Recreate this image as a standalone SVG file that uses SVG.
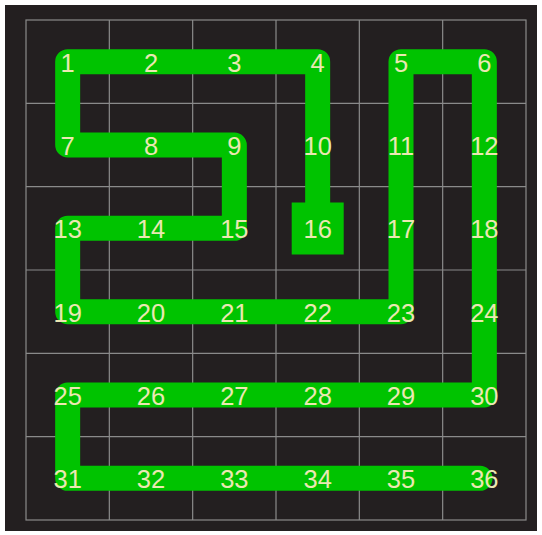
<svg xmlns="http://www.w3.org/2000/svg" width="542" height="535" viewBox="0 0 542 535">
<style>
.grid{stroke:#8a8a8a;stroke-width:1.2;fill:none}
.route{stroke:#00c300;stroke-width:25;fill:none;stroke-linejoin:round;stroke-linecap:round}
.lbl{font-family:"Liberation Sans",Arial,sans-serif;font-size:25.5px;fill:#ebe8b2;text-anchor:middle;dominant-baseline:central}
</style>
<rect x="0" y="0" width="542" height="535" fill="#ffffff"/>
<rect x="5" y="5" width="532" height="526" fill="#231f20"/>
<g id="grid" class="grid">
<rect x="26" y="20" width="500" height="500"/>
<path d="M109.33,20V520M192.67,20V520M276,20V520M359.33,20V520M442.67,20V520M26,103.33H526M26,186.67H526M26,270H526M26,353.33H526M26,436.67H526"/>
</g>
<g id="connectors">
<path class="route" d="M317.67,228.33V61.67H67.67V145H234.33V228.33H67.67V311.67H401V61.67H484.33V395H67.67V478.33H480"/>
<rect x="291.7" y="202.5" width="52" height="52" fill="#00c300"/>
</g>
<g id="n1"><text class="lbl" x="67.67" y="62.5">1</text></g>
<g id="n2"><text class="lbl" x="151" y="62.5">2</text></g>
<g id="n3"><text class="lbl" x="234.33" y="62.5">3</text></g>
<g id="n4"><text class="lbl" x="317.67" y="62.5">4</text></g>
<g id="n5"><text class="lbl" x="401" y="62.5">5</text></g>
<g id="n6"><text class="lbl" x="484.33" y="62.5">6</text></g>
<g id="n7"><text class="lbl" x="67.67" y="145.8">7</text></g>
<g id="n8"><text class="lbl" x="151" y="145.8">8</text></g>
<g id="n9"><text class="lbl" x="234.33" y="145.8">9</text></g>
<g id="n10"><text class="lbl" x="317.67" y="145.8">10</text></g>
<g id="n11"><text class="lbl" x="401" y="145.8">11</text></g>
<g id="n12"><text class="lbl" x="484.33" y="145.8">12</text></g>
<g id="n13"><text class="lbl" x="67.67" y="229.2">13</text></g>
<g id="n14"><text class="lbl" x="151" y="229.2">14</text></g>
<g id="n15"><text class="lbl" x="234.33" y="229.2">15</text></g>
<g id="n16"><text class="lbl" x="317.67" y="229.2">16</text></g>
<g id="n17"><text class="lbl" x="401" y="229.2">17</text></g>
<g id="n18"><text class="lbl" x="484.33" y="229.2">18</text></g>
<g id="n19"><text class="lbl" x="67.67" y="312.5">19</text></g>
<g id="n20"><text class="lbl" x="151" y="312.5">20</text></g>
<g id="n21"><text class="lbl" x="234.33" y="312.5">21</text></g>
<g id="n22"><text class="lbl" x="317.67" y="312.5">22</text></g>
<g id="n23"><text class="lbl" x="401" y="312.5">23</text></g>
<g id="n24"><text class="lbl" x="484.33" y="312.5">24</text></g>
<g id="n25"><text class="lbl" x="67.67" y="395.8">25</text></g>
<g id="n26"><text class="lbl" x="151" y="395.8">26</text></g>
<g id="n27"><text class="lbl" x="234.33" y="395.8">27</text></g>
<g id="n28"><text class="lbl" x="317.67" y="395.8">28</text></g>
<g id="n29"><text class="lbl" x="401" y="395.8">29</text></g>
<g id="n30"><text class="lbl" x="484.33" y="395.8">30</text></g>
<g id="n31"><text class="lbl" x="67.67" y="479.2">31</text></g>
<g id="n32"><text class="lbl" x="151" y="479.2">32</text></g>
<g id="n33"><text class="lbl" x="234.33" y="479.2">33</text></g>
<g id="n34"><text class="lbl" x="317.67" y="479.2">34</text></g>
<g id="n35"><text class="lbl" x="401" y="479.2">35</text></g>
<g id="n36"><text class="lbl" x="484.33" y="479.2">36</text></g>
</svg>
